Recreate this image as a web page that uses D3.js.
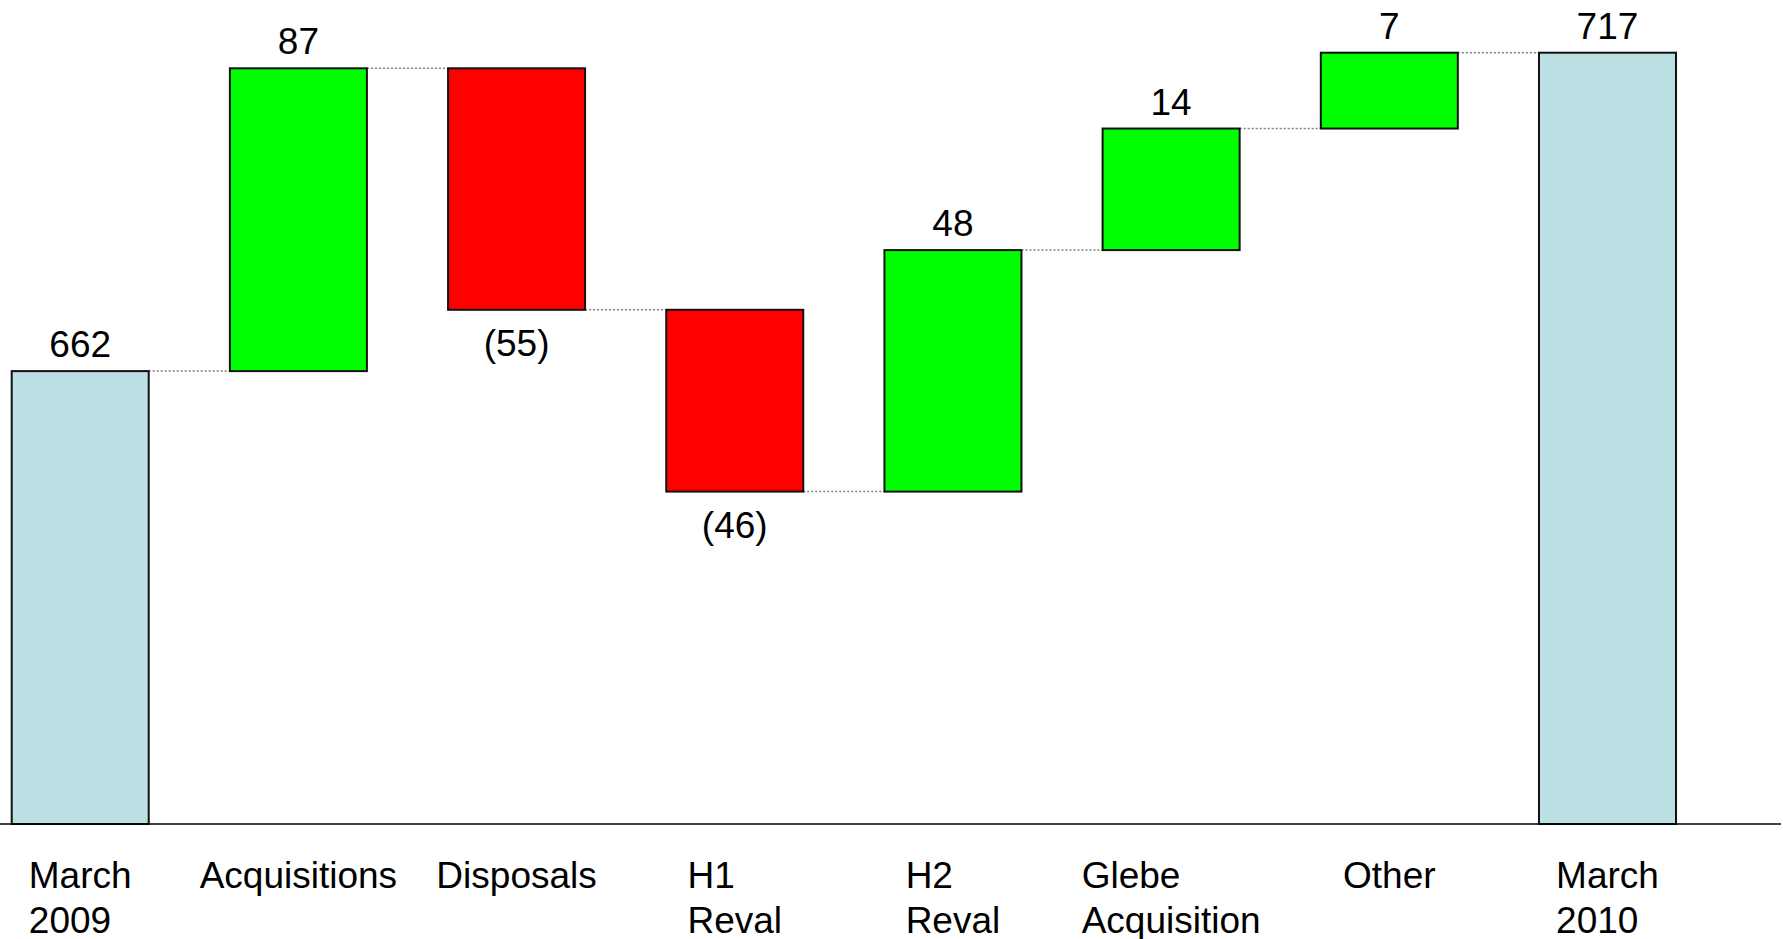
<!DOCTYPE html>
<html>
<head>
<meta charset="utf-8">
<script src="https://cdn.jsdelivr.net/npm/d3@7"></script>
<style>
  html, body { margin: 0; padding: 0; background: #ffffff; }
  svg { display: block; }
  text { font-family: "Liberation Sans", Arial, sans-serif; fill: #000; }
</style>
</head>
<body>
<svg id="chart" width="1783" height="939"></svg>
<script>
// ---- data ----
const categories = [
  ["March", "2009"], ["Acquisitions"], ["Disposals"], ["H1", "Reval"],
  ["H2", "Reval"], ["Glebe", "Acquisition"], ["Other"], ["March", "2010"]
];
const values = [662, 87, -55, -46, 48, 14, 7, 717];
const kinds = ["total", "up", "down", "down", "up", "up", "up", "total"];
// The source picture is not drawn to scale: these are the running levels
// after each step as they are drawn, in units of the final total (717).
const drawnLevels = [421, 702.5, 478, 309, 533.5, 646.5, 717];

// ---- layout ----
const W = 1783, H = 939;
const baseY = 824, topY = 52.7;
const fontSize = 37;
const colors = { total: "#bbe0e3", up: "#00ff00", down: "#ff0000" };

const svg = d3.select("#chart");

const x = d3.scaleBand()
  .domain(d3.range(categories.length))
  .range([11.7, 1676])
  .paddingInner(0.372)
  .paddingOuter(0);

const y = d3.scaleLinear()
  .domain([0, d3.max(drawnLevels)])
  .range([baseY, topY]);

// bar extents in drawn units
const bars = values.map((v, i) => {
  let lo, hi;
  if (kinds[i] === "total") {
    lo = 0;
    hi = i === 0 ? drawnLevels[0] : drawnLevels[drawnLevels.length - 1];
  } else {
    const a = drawnLevels[i - 1], b = drawnLevels[i];
    lo = Math.min(a, b); hi = Math.max(a, b);
  }
  return { i, v, kind: kinds[i], lo, hi };
});

// connectors (dotted)
const connectors = drawnLevels.map((lvl, i) => ({ i, lvl }));
svg.append("g")
  .selectAll("line")
  .data(connectors)
  .join("line")
  .attr("x1", d => x(d.i) + x.bandwidth())
  .attr("x2", d => x(d.i + 1))
  .attr("y1", d => y(d.lvl))
  .attr("y2", d => y(d.lvl))
  .attr("stroke", "#808080")
  .attr("stroke-width", 1.5)
  .attr("stroke-dasharray", "2,2");

// bars
svg.append("g")
  .selectAll("rect")
  .data(bars)
  .join("rect")
  .attr("x", d => x(d.i))
  .attr("width", x.bandwidth())
  .attr("y", d => y(d.hi))
  .attr("height", d => y(d.lo) - y(d.hi))
  .attr("fill", d => colors[d.kind])
  .attr("stroke", "#111")
  .attr("stroke-width", 2);

// baseline
svg.append("line")
  .attr("x1", 0).attr("x2", 1781)
  .attr("y1", baseY).attr("y2", baseY)
  .attr("stroke", "#000")
  .attr("stroke-width", 1.5);

// value labels
svg.append("g")
  .selectAll("text")
  .data(bars)
  .join("text")
  .attr("x", d => x(d.i) + x.bandwidth() / 2)
  .attr("y", d => d.v < 0 ? y(d.lo) + 46.5 : y(d.hi) - 14)
  .attr("text-anchor", "middle")
  .attr("font-size", fontSize)
  .text(d => d.v < 0 ? "(" + Math.abs(d.v) + ")" : String(d.v));

// category labels: lines left-aligned, block centred on the bar
const catG = svg.append("g")
  .selectAll("g")
  .data(categories)
  .join("g");

catG.each(function (lines, i) {
  const g = d3.select(this);
  const t = g.append("text")
    .attr("font-size", fontSize);
  lines.forEach((ln, k) => {
    t.append("tspan")
      .attr("x", 0)
      .attr("y", 888 + k * 44.5)
      .text(ln);
  });
  const w = t.node().getBBox().width;
  const cx = x(i) + x.bandwidth() / 2;
  g.attr("transform", `translate(${cx - w / 2},0)`);
});
</script>
</body>
</html>
